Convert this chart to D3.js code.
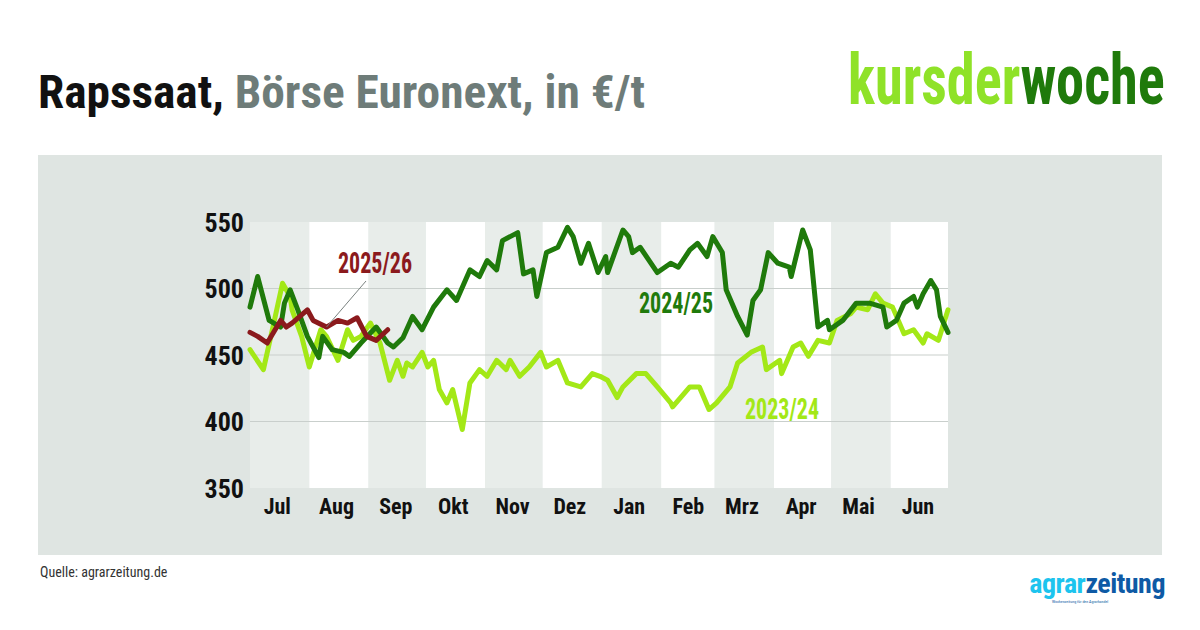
<!DOCTYPE html>
<html>
<head>
<meta charset="utf-8">
<script src="https://cdn.jsdelivr.net/npm/d3@7"></script>
<style>
  body { margin: 0; background: #fff; }
  text { font-family: "Liberation Sans Narrow", "Roboto Condensed", "Liberation Sans", sans-serif; }
</style>
</head>
<body>
<svg id="chart" width="1200" height="630"></svg>
<script>
// month labels and y ticks
var months = ["Jul", "Aug", "Sep", "Okt", "Nov", "Dez", "Jan", "Feb", "Mrz", "Apr", "Mai", "Jun"];
var yTicks = [350, 400, 450, 500, 550];

// [day of season (0 = 1 July), price €/t]
var s2324 = [[0,454],[7,439],[12,471],[17,504],[21,494],[22,484],[27,464],[31,441],[37,469],[40,464],[46,446],[51,469],[54,461],[58,464],[63,474],[68,459],[73,431],[77,446],[80,434],[82,444],[85,441],[90,452],[93,441],[96,446],[99,424],[103,414],[106,424],[111,394],[115,429],[120,439],[124,434],[129,446],[134,439],[136,446],[141,434],[146,441],[152,452],[155,441],[161,446],[166,429],[173,426],[179,436],[183,434],[187,431],[192,418],[195,426],[202,436],[207,436],[213,426],[220,414],[221,411],[230,426],[235,426],[240,409],[244,414],[251,426],[255,444],[262,452],[268,456],[270,439],[277,446],[278,436],[284,456],[288,459],[292,449],[297,461],[303,459],[307,476],[314,481],[317,486],[323,484],[327,496],[331,489],[336,486],[342,466],[347,469],[352,459],[354,466],[360,461],[365,484]];

var s2425 = [[0,486],[4,509],[10,476],[16,471],[18,489],[21,499],[25,484],[30,464],[36,448],[38,464],[43,454],[49,452],[52,449],[58,459],[66,471],[72,459],[75,456],[80,463],[85,479],[90,469],[96,486],[103,499],[108,491],[115,514],[120,509],[124,521],[129,514],[132,536],[140,542],[143,511],[148,514],[150,494],[155,527],[161,531],[166,546],[169,539],[173,519],[177,534],[182,512],[186,524],[187,512],[195,544],[198,539],[200,527],[204,531],[213,512],[220,519],[224,516],[230,529],[234,534],[239,524],[242,539],[247,527],[249,499],[255,479],[260,465],[263,491],[267,499],[271,527],[276,519],[282,516],[283,509],[289,544],[293,529],[297,471],[302,476],[303,469],[310,476],[317,489],[324,489],[331,486],[333,471],[338,476],[342,489],[347,494],[349,486],[352,496],[356,506],[359,499],[361,479],[365,467]];

var s2526 = [[0,467],[4,464],[9,459],[16,476],[19,471],[22,474],[30,484],[33,476],[40,471],[46,476],[51,474],[56,478],[61,464],[66,461],[72,469]];

var svg = d3.select("#chart");
var start = new Date(2024, 6, 1);
var end = new Date(2025, 6, 1);
var toDate = function (d) { return d3.timeDay.offset(start, d); };

var x = d3.scaleTime().domain([start, end]).range([250, 948]);
var y = d3.scaleLinear().domain([350, 550]).range([488, 222]);

// titles
var title = svg.append("text").attr("x", 38).attr("y", 108)
    .attr("textLength", 607).attr("lengthAdjust", "spacingAndGlyphs")
    .style("font-size", "46px").style("font-weight", "bold");
title.append("tspan").attr("fill", "#111").text("Rapssaat,");
title.append("tspan").attr("fill", "#6e7c79").text(" Börse Euronext, in €/t");

var logo = svg.append("text").attr("transform", "translate(848,104) scale(0.805,1)")
    .style("font-size", "70px").style("font-weight", "bold");
logo.append("tspan").attr("fill", "#8fe228").text("kursder");
logo.append("tspan").attr("fill", "#1f7a0b").text("woche");

// panel
svg.append("rect").attr("x", 38).attr("y", 155).attr("width", 1124).attr("height", 400).attr("fill", "#dfe5e2");

var monthStarts = d3.timeMonth.range(start, end);
svg.append("g").selectAll("rect").data(monthStarts).join("rect")
    .attr("x", function (d) { return x(d); })
    .attr("y", y(550))
    .attr("width", function (d) { return x(d3.timeMonth.offset(d, 1)) - x(d); })
    .attr("height", y(350) - y(550))
    .attr("fill", function (d, i) { return i % 2 === 0 ? "#e8edea" : "#ffffff"; });

// grid
svg.append("g").selectAll("line").data(yTicks.slice(1, 4)).join("line")
    .attr("x1", 250).attr("x2", 948)
    .attr("y1", function (d) { return y(d); }).attr("y2", function (d) { return y(d); })
    .attr("stroke", "#c9cfcc").attr("stroke-width", 1.2);

// axes
var yAxis = svg.append("g").attr("transform", "translate(244,0)")
    .call(d3.axisLeft(y).tickValues(yTicks).tickSize(0).tickPadding(0));
yAxis.select(".domain").remove();
yAxis.selectAll("text").style("font-size", "26px").style("font-weight", "bold").attr("fill", "#111").attr("dy", "0.35em");

var mids = monthStarts.map(function (d) { return d3.timeDay.offset(d, 14); });
var xAxis = svg.append("g").attr("transform", "translate(0,496)")
    .call(d3.axisBottom(x).tickValues(mids).tickSize(0).tickPadding(0)
        .tickFormat(function (d, i) { return months[i]; }));
xAxis.select(".domain").remove();
xAxis.selectAll("text").style("font-size", "22px").style("font-weight", "bold").attr("fill", "#111").attr("dy", "0.8em");

// lines
var line = d3.line()
    .x(function (d) { return x(toDate(d[0])); })
    .y(function (d) { return y(d[1]); });

var series = [
    { data: s2324, color: "#a3e817" },
    { data: s2425, color: "#1f7a0b" },
    { data: s2526, color: "#8b1a1d" }
];
series.forEach(function (s) {
    svg.append("path").datum(s.data).attr("d", line)
        .attr("fill", "none").attr("stroke", s.color)
        .attr("stroke-width", 5).attr("stroke-linejoin", "round").attr("stroke-linecap", "round");
});

// labels
svg.append("line").attr("x1", 366).attr("y1", 281).attr("x2", x(toDate(40))).attr("y2", y(471))
    .attr("stroke", "#7a8280").attr("stroke-width", 1);
var labels = [
    { t: "2025/26", x: 375, y: 273, c: "#8b1a1d" },
    { t: "2024/25", x: 676, y: 313, c: "#1f7a0b" },
    { t: "2023/24", x: 782, y: 419, c: "#a3e817" }
];
svg.append("g").selectAll("text").data(labels).join("text")
    .attr("x", function (d) { return d.x; }).attr("y", function (d) { return d.y; })
    .attr("text-anchor", "middle").attr("fill", function (d) { return d.c; })
    .attr("textLength", 74).attr("lengthAdjust", "spacingAndGlyphs")
    .style("font-size", "30px").style("font-weight", "bold").text(function (d) { return d.t; });

// source + publisher
svg.append("text").attr("x", 40).attr("y", 577).attr("fill", "#333")
    .style("font-size", "14px").text("Quelle: agrarzeitung.de");
var az = svg.append("text").attr("x", 1165).attr("y", 593).attr("text-anchor", "end")
    .style("font-size", "28px").style("font-weight", "bold").style("letter-spacing", "-0.5px");
az.append("tspan").attr("fill", "#1dc4ee").text("agrar");
az.append("tspan").attr("fill", "#0e5aa5").text("zeitung");
svg.append("text").attr("x", 1052).attr("y", 603).attr("fill", "#0e5aa5")
    .style("font-size", "4px").text("Wochenzeitung für den Agrarhandel");
</script>
</body>
</html>
